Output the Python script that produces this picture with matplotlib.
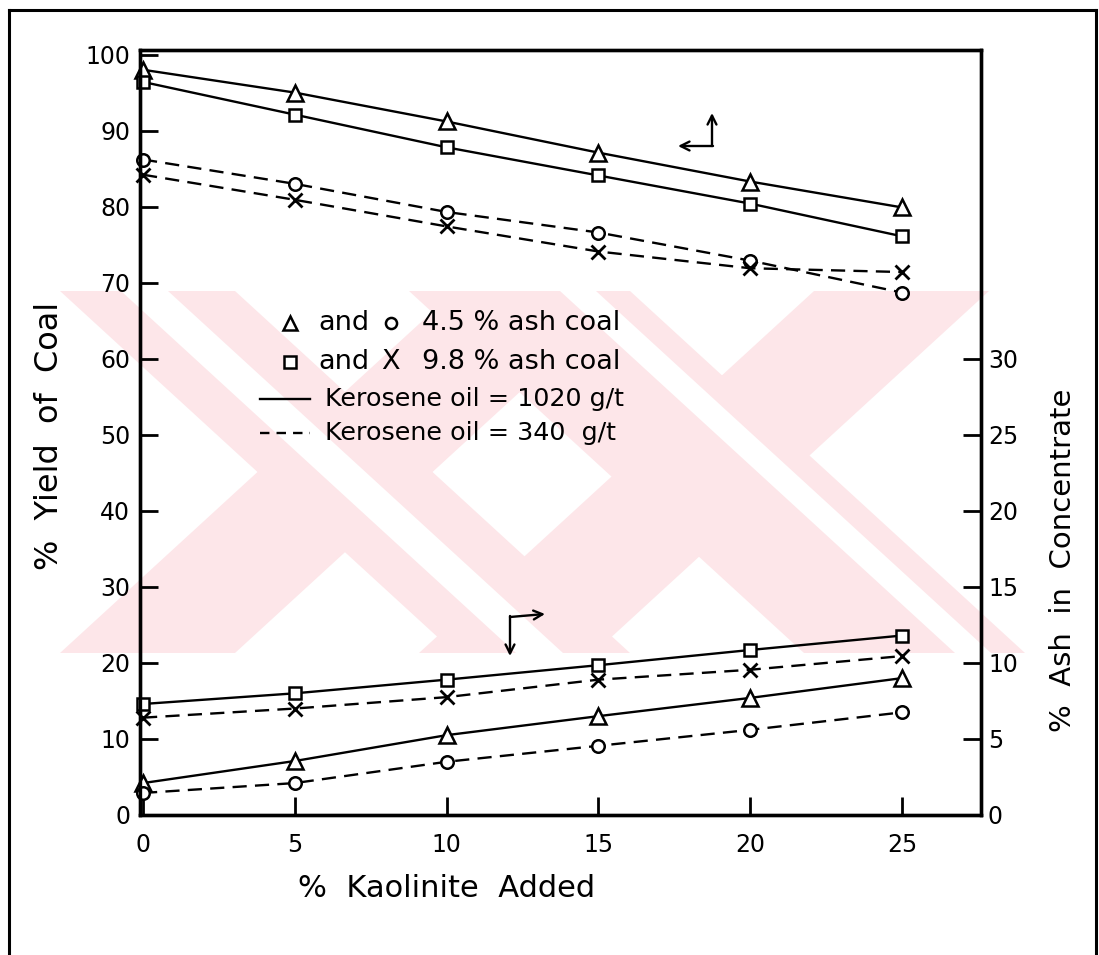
import matplotlib
matplotlib.use("Agg")
import matplotlib.pyplot as plt
from matplotlib.patches import Polygon

# % kaolinite added to the flotation feed
kaolinite = [0, 5, 10, 15, 20, 25]

# % yield of coal (left axis)
yield_45_k1020 = [98.0, 95.0, 91.2, 87.1, 83.3, 79.9]
yield_98_k1020 = [96.4, 92.1, 87.8, 84.1, 80.4, 76.1]
yield_45_k340 = [86.2, 83.0, 79.3, 76.6, 72.9, 68.7]
yield_98_k340 = [84.2, 80.9, 77.4, 74.1, 71.9, 71.4]

# % ash in concentrate (right axis)
ash_98_k1020 = [7.3, 8.0, 8.9, 9.85, 10.85, 11.8]
ash_98_k340 = [6.4, 7.0, 7.75, 8.9, 9.55, 10.45]
ash_45_k1020 = [2.1, 3.55, 5.25, 6.5, 7.7, 9.0]
ash_45_k340 = [1.45, 2.1, 3.5, 4.55, 5.6, 6.75]

x_ticks = [0, 5, 10, 15, 20, 25]
yield_ticks = list(range(0, 101, 10))
ash_ticks = list(range(0, 31, 5))

W, H = 1099, 955
fig = plt.figure(figsize=(W / 100, H / 100), dpi=100)
fig.patch.set_facecolor("white")


def fx(px):
    return px / W


def fy(py):
    return 1 - py / H


def add_band(top_l, top_r, bot_l, bot_r, color, z):
    pts = [(top_l, 291), (top_r, 291), (bot_r, 653), (bot_l, 653)]
    fig.patches.append(Polygon([(fx(px), fy(py)) for px, py in pts],
                               closed=True, transform=fig.transFigure,
                               facecolor=color, edgecolor="none", zorder=z))


# pale background lettering
pink = "#fde6e9"
s = 395
add_band(60, 235, 60 + s, 235 + s, pink, -10)      # "\" of first X
add_band(60 + s, 235 + s, 60, 235, pink, -10)      # "/" of first X
add_band(409, 630, 409 + s, 630 + s, pink, -10)    # "\" of second X
add_band(419 + s, 594 + s, 419, 594, pink, -10)    # "/" of second X
# thin white cuts through the "\" strokes
add_band(121, 168, 121 + s, 168 + s, "white", -9)
add_band(560, 596, 560 + s, 596 + s, "white", -9)

# outer frame
frame_kw = dict(color="black", lw=2.2, transform=fig.transFigure, zorder=5)
fig.add_artist(plt.Line2D([fx(9), fx(9)], [0, fy(10)], **frame_kw))
fig.add_artist(plt.Line2D([fx(9), fx(1096)], [fy(10), fy(10)], **frame_kw))
fig.add_artist(plt.Line2D([fx(1096), fx(1096)], [fy(10), 0], **frame_kw))

ax = fig.add_axes([fx(140), fy(815), (981 - 140) / W, (815 - 50) / H])
ax.patch.set_alpha(0)
ax.set_xlim(-0.1, 27.6)
ax.set_ylim(0, 100.6)
for sp in ax.spines.values():
    sp.set_linewidth(2.4)

ax2 = ax.twinx()
ax2.set_ylim(0, 100.6 / 2)
ax2.patch.set_alpha(0)
for sp in ax2.spines.values():
    sp.set_linewidth(2.4)

solid = dict(color="black", lw=1.7, linestyle="-")
dashed = dict(color="black", lw=1.7, linestyle=(0, (6, 3.5)))
tri = dict(marker="^", markersize=12, markerfacecolor="white",
           markeredgecolor="black", markeredgewidth=1.8)
sq = dict(marker="s", markersize=9, markerfacecolor="white",
          markeredgecolor="black", markeredgewidth=1.8)
circ = dict(marker="o", markersize=9, markerfacecolor="white",
            markeredgecolor="black", markeredgewidth=1.8)
cross = dict(marker="x", markersize=9.5, markeredgecolor="black",
             markeredgewidth=2.0)

ax.plot(kaolinite, yield_45_k1020, **solid, **tri, clip_on=False)
ax.plot(kaolinite, yield_98_k1020, **solid, **sq, clip_on=False)
ax.plot(kaolinite, yield_45_k340, **dashed, **circ, clip_on=False)
ax.plot(kaolinite, yield_98_k340, **dashed, **cross, clip_on=False)

ax2.plot(kaolinite, ash_98_k1020, **solid, **sq, clip_on=False)
ax2.plot(kaolinite, ash_98_k340, **dashed, **cross, clip_on=False)
ax2.plot(kaolinite, ash_45_k1020, **solid, **tri, clip_on=False)
ax2.plot(kaolinite, ash_45_k340, **dashed, **circ, clip_on=False)

tick_font = 17
ax.set_xticks(x_ticks)
ax.set_xticklabels([str(v) for v in x_ticks], fontsize=tick_font)
ax.set_yticks(yield_ticks)
ax.set_yticklabels([str(v) for v in yield_ticks], fontsize=tick_font)
ax.tick_params(axis="x", direction="in", length=13, width=2.0, pad=13)
ax.tick_params(axis="y", direction="in", length=13, width=2.0, pad=7)
ax2.set_yticks(ash_ticks)
ax2.set_yticklabels([str(v) for v in ash_ticks], fontsize=tick_font)
ax2.tick_params(axis="y", direction="in", length=13, width=2.0, pad=5)

fig.text(fx(447), fy(888), "%  Kaolinite  Added", fontsize=22,
         ha="center", va="center")
fig.text(fx(50), fy(436), "%  Yield  of  Coal", fontsize=23,
         ha="center", va="center", rotation=90)
fig.text(fx(1063), fy(560), "%  Ash  in  Concentrate", fontsize=21,
         ha="center", va="center", rotation=90)


# key to symbols and line styles
def ax_x(px):
    return (px - 140) / (981 - 140)


def ax_y(py):
    return (815 - py) / (815 - 50)


key_font = 19.5
rows = [323, 362, 399, 433]
ax.plot([ax_x(290)], [ax_y(rows[0])], transform=ax.transAxes,
        linestyle="none", **dict(tri, markersize=10))
ax.text(ax_x(318), ax_y(rows[0]), "and", transform=ax.transAxes,
        fontsize=key_font, va="center")
ax.plot([ax_x(391)], [ax_y(rows[0])], transform=ax.transAxes,
        linestyle="none", **dict(circ, markersize=8))
ax.text(ax_x(422), ax_y(rows[0]), "4.5 % ash coal", transform=ax.transAxes,
        fontsize=key_font, va="center")

ax.plot([ax_x(290)], [ax_y(rows[1])], transform=ax.transAxes,
        linestyle="none", **dict(sq, markersize=8))
ax.text(ax_x(318), ax_y(rows[1]), "and", transform=ax.transAxes,
        fontsize=key_font, va="center")
ax.text(ax_x(391), ax_y(rows[1]), "X", transform=ax.transAxes,
        fontsize=key_font, va="center", ha="center")
ax.text(ax_x(422), ax_y(rows[1]), "9.8 % ash coal", transform=ax.transAxes,
        fontsize=key_font, va="center")

ax.plot([ax_x(260), ax_x(310)], [ax_y(rows[2])] * 2, transform=ax.transAxes,
        **solid)
ax.text(ax_x(325), ax_y(rows[2]), "Kerosene oil = 1020 g/t",
        transform=ax.transAxes, fontsize=18.3, va="center")
ax.plot([ax_x(260), ax_x(310)], [ax_y(rows[3])] * 2, transform=ax.transAxes,
        color="black", lw=1.7, linestyle=(0, (4, 3)))
ax.text(ax_x(325), ax_y(rows[3]), "Kerosene oil = 340  g/t",
        transform=ax.transAxes, fontsize=18.3, va="center")

# arrows telling which axis each group of curves is read against
arrow_kw = dict(arrowstyle="->", color="black", lw=1.7,
                mutation_scale=16, shrinkA=0, shrinkB=0)
ax.annotate("", xy=(ax_x(712), ax_y(113)), xytext=(ax_x(712), ax_y(146)),
            xycoords="axes fraction", arrowprops=arrow_kw)
ax.annotate("", xy=(ax_x(678), ax_y(146)), xytext=(ax_x(713), ax_y(146)),
            xycoords="axes fraction", arrowprops=arrow_kw)
ax.annotate("", xy=(ax_x(545), ax_y(614)), xytext=(ax_x(510), ax_y(617)),
            xycoords="axes fraction", arrowprops=arrow_kw)
ax.annotate("", xy=(ax_x(510), ax_y(656)), xytext=(ax_x(510), ax_y(616)),
            xycoords="axes fraction", arrowprops=arrow_kw)

fig.savefig("out.png", dpi=100)
